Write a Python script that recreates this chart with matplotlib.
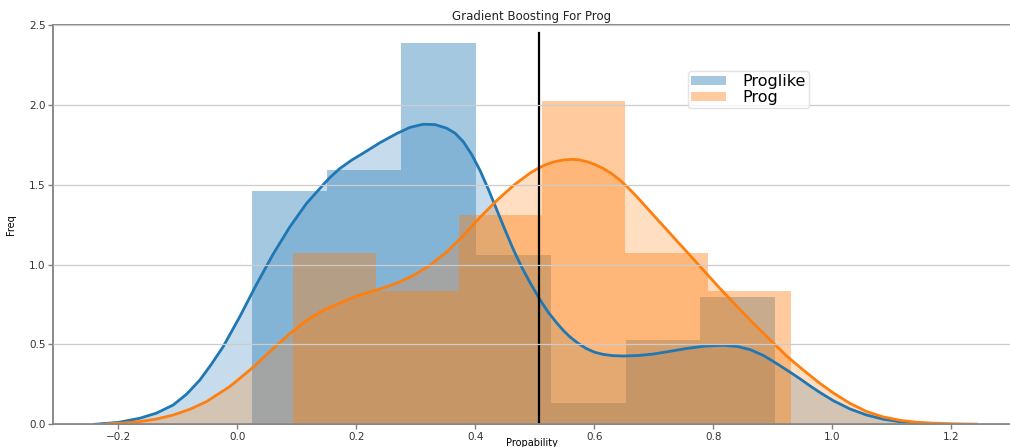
import numpy as np
import matplotlib
matplotlib.use("Agg")
import matplotlib.pyplot as plt

# histogram bins (counts per bin, range of bins)
proglike_counts = [11, 12, 18, 8, 1, 4, 6]
proglike_range = (0.0244, 0.904)
prog_counts = [9, 7, 11, 17, 9, 7]
prog_range = (0.0928, 0.931)

# kde curves
proglike_kde_x = [-0.240, -0.200, -0.164, -0.136, -0.108, -0.085, -0.063, -0.044, -0.024,
                  0.004, 0.032, 0.060, 0.088, 0.116, 0.144, 0.156, 0.172, 0.192, 0.212,
                  0.240, 0.268, 0.290, 0.312, 0.332, 0.352, 0.366, 0.380, 0.394, 0.408,
                  0.422, 0.436, 0.450, 0.464, 0.478, 0.492, 0.509, 0.523, 0.537, 0.548,
                  0.559, 0.573, 0.587, 0.601, 0.615, 0.632, 0.649, 0.674, 0.699, 0.727,
                  0.755, 0.786, 0.817, 0.840, 0.862, 0.885, 0.907, 0.927, 0.946, 0.963,
                  0.980, 1.002, 1.030, 1.058, 1.086, 1.114, 1.142, 1.170]
proglike_kde_y = [0.000, 0.012, 0.038, 0.070, 0.121, 0.190, 0.278, 0.375, 0.486,
                  0.674, 0.876, 1.066, 1.236, 1.383, 1.500, 1.548, 1.602, 1.655, 1.700,
                  1.765, 1.822, 1.860, 1.880, 1.878, 1.855, 1.824, 1.770, 1.690, 1.590,
                  1.472, 1.345, 1.218, 1.095, 0.985, 0.888, 0.779, 0.700, 0.635, 0.588,
                  0.548, 0.507, 0.474, 0.451, 0.438, 0.430, 0.428, 0.431, 0.440, 0.457,
                  0.475, 0.490, 0.495, 0.488, 0.468, 0.430, 0.380, 0.332, 0.285, 0.240,
                  0.198, 0.148, 0.096, 0.058, 0.032, 0.016, 0.007, 0.003]
prog_kde_x = [-0.220, -0.192, -0.164, -0.136, -0.108, -0.080, -0.052, -0.013, 0.021,
              0.060, 0.088, 0.116, 0.144, 0.172, 0.192, 0.212, 0.240, 0.268, 0.296,
              0.324, 0.352, 0.380, 0.408, 0.436, 0.464, 0.492, 0.506, 0.520, 0.534,
              0.548, 0.564, 0.576, 0.587, 0.601, 0.615, 0.629, 0.643, 0.657, 0.671,
              0.699, 0.727, 0.755, 0.783, 0.811, 0.840, 0.867, 0.896, 0.924, 0.952,
              0.980, 1.002, 1.030, 1.058, 1.086, 1.114, 1.142, 1.170, 1.205, 1.243]
prog_kde_y = [0.003, 0.008, 0.017, 0.033, 0.058, 0.094, 0.142, 0.236, 0.340,
              0.474, 0.568, 0.650, 0.713, 0.760, 0.790, 0.817, 0.848, 0.884, 0.933,
              0.997, 1.080, 1.183, 1.297, 1.402, 1.496, 1.574, 1.605, 1.629, 1.646,
              1.656, 1.660, 1.656, 1.646, 1.628, 1.603, 1.571, 1.531, 1.482, 1.428,
              1.313, 1.198, 1.083, 0.968, 0.853, 0.738, 0.634, 0.528, 0.426, 0.338,
              0.255, 0.196, 0.131, 0.080, 0.046, 0.025, 0.013, 0.007, 0.003, 0.001]

threshold = 0.5076
labels = ["Proglike", "Prog"]
xticks = [-0.2, 0.0, 0.2, 0.4, 0.6, 0.8, 1.0, 1.2]
yticks = [0.0, 0.5, 1.0, 1.5, 2.0, 2.5]

fig = plt.figure(figsize=(10.1, 4.47), dpi=100)
ax = fig.add_axes([0.0525, 0.0508, 0.9475, 0.8926])

series = [
    (proglike_counts, proglike_range, proglike_kde_x, proglike_kde_y, "#1f77b4", labels[0]),
    (prog_counts, prog_range, prog_kde_x, prog_kde_y, "#ff7f0e", labels[1]),
]
for counts, rng, kx, ky, col, lab in series:
    n = len(counts)
    edges = np.linspace(rng[0], rng[1], n + 1)
    centers = (edges[:-1] + edges[1:]) / 2
    ax.hist(centers, bins=edges, weights=counts, density=True,
            color=col, alpha=0.4, linewidth=0, label=lab)
    ax.plot(kx, ky, color=col, lw=2, solid_joinstyle="round")
    ax.fill_between(kx, ky, color=col, alpha=0.25, linewidth=0)

ax.axvline(threshold, ymax=0.98, color="black", lw=1.6)

ax.set_xlim(-0.31, 1.299)
ax.set_ylim(0, 2.5)
ax.set_xticks(xticks)
ax.set_yticks(yticks)
ax.yaxis.grid(True, color="#cccccc", lw=0.9)
ax.set_axisbelow(False)
for s in ["left", "bottom", "top"]:
    ax.spines[s].set_color("#808080")
    ax.spines[s].set_linewidth(1.3)
ax.spines["right"].set_visible(False)
ax.tick_params(labelsize=7.5, colors="#333333", length=3.5, width=1, pad=2)
ax.tick_params(axis="both", color="#808080")

ax.set_title("Gradient Boosting For Prog", fontsize=8.5, pad=4, color="#222222")
ax.set_xlabel("Propability", fontsize=7, labelpad=-3)
ax.set_ylabel("Freq", fontsize=7, labelpad=9)

ax.legend(loc="upper left", bbox_to_anchor=(0.655, 0.905), fontsize=11.5,
          labelspacing=0.05, borderpad=0.2, handletextpad=1.0, handlelength=2.2,
          handleheight=0.5, framealpha=0.8, edgecolor="#dddddd")

fig.savefig("out.png", dpi=100)
